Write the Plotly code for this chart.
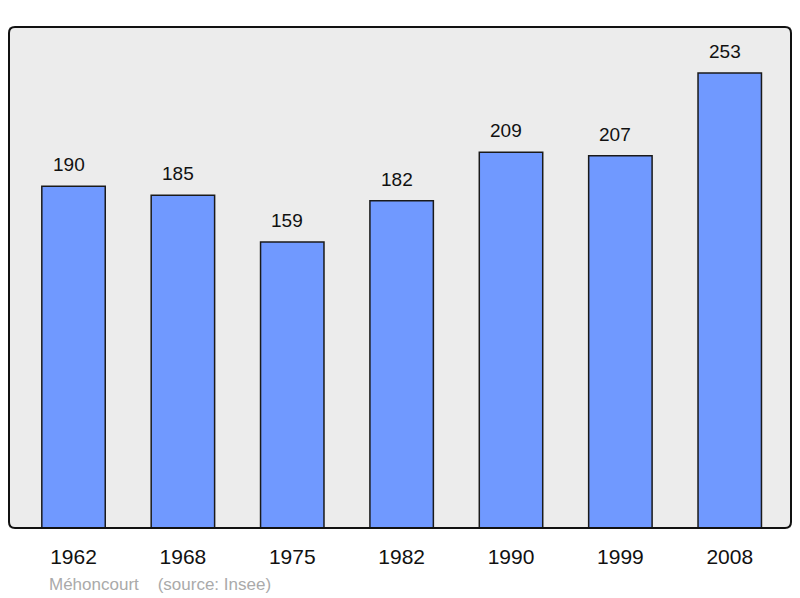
import plotly.graph_objects as go

years = ["1962", "1968", "1975", "1982", "1990", "1999", "2008"]
population = [190, 185, 159, 182, 209, 207, 253]

BAR_FILL = "#7099ff"
BG = "#ececec"

# the page puts the figure 8px in from the top-left corner,
# so the canvas is a little smaller than the window
W, H = 792, 590
M = dict(l=1, r=9, t=19, b=70)
pw = W - M["l"] - M["r"]
ph = H - M["t"] - M["b"]

fig = go.Figure()

fig.add_trace(go.Bar(
    x=years,
    y=population,
    width=0.58,
    marker=dict(color=BAR_FILL, line=dict(color="#1a1a1a", width=1.5)),
    hoverinfo="x+y",
    showlegend=False,
))

# value labels above bars (category index, since names look numeric)
for i, v in enumerate(population):
    fig.add_annotation(
        x=i, y=v, text=str(v),
        showarrow=False, yanchor="bottom", yshift=9, xshift=-5,
        font=dict(size=19, color="#111111"),
    )

# source note
fig.add_annotation(
    xref="paper", yref="paper", x=38 / pw, y=-56 / ph,
    xanchor="left", yanchor="middle",
    text="Méhoncourt&nbsp;&nbsp;&nbsp;&nbsp;(source: Insee)",
    showarrow=False, font=dict(size=17, color="#aaaaaa"),
)

# frame around the plotting area, slightly rounded corners
rx, ry = 6 / pw, 6 / ph
frame = (
    f"M {rx},0 L {1 - rx},0 Q 1,0 1,{ry} L 1,{1 - ry} Q 1,1 {1 - rx},1 "
    f"L {rx},1 Q 0,1 0,{1 - ry} L 0,{ry} Q 0,0 {rx},0 Z"
)
fig.add_shape(
    type="path", xref="paper", yref="paper", path=frame,
    line=dict(color="#111111", width=2), layer="above",
)

fig.update_xaxes(
    type="category",
    range=[-0.59, 6.56],
    showgrid=False, zeroline=False, showline=False,
    ticks="outside", ticklen=10, tickcolor="rgba(0,0,0,0)",
    tickfont=dict(size=21, color="#111111"),
)
fig.update_yaxes(
    range=[0, 278.6],
    showgrid=False, zeroline=False, showline=False,
    showticklabels=False, ticks="",
)

fig.update_layout(
    width=W, height=H,
    margin=M,
    plot_bgcolor=BG,
    paper_bgcolor="white",
    font=dict(family="Liberation Sans, Arial, sans-serif"),
)

fig.write_html("out.html")
